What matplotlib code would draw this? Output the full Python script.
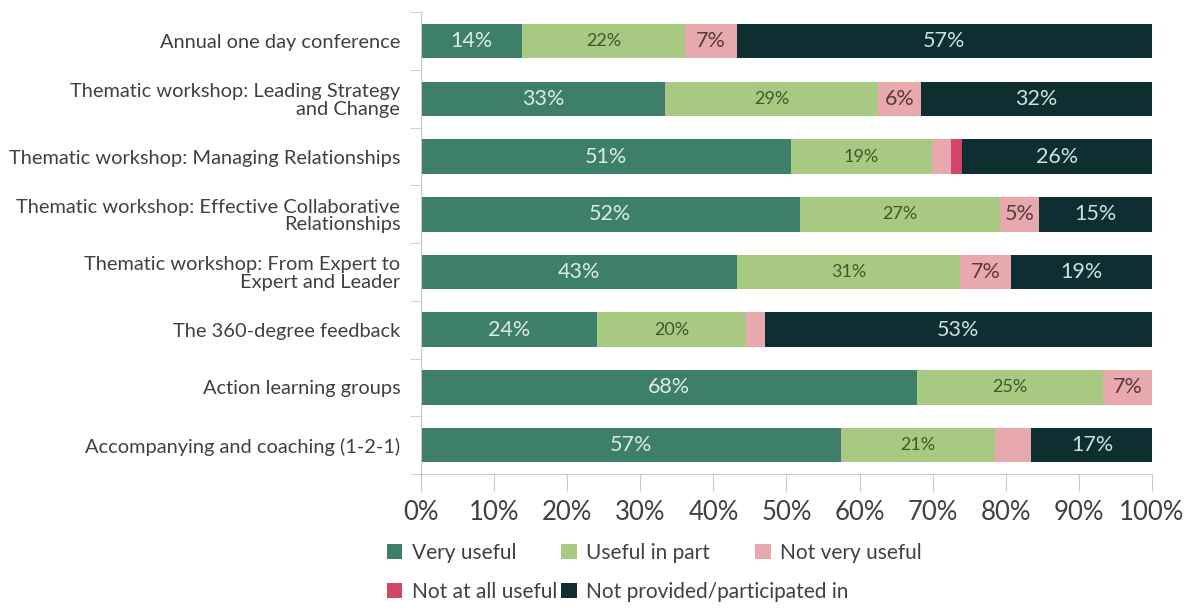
import matplotlib.pyplot as plt
import numpy as np

plt.rcParams['font.family'] = ['Lato', 'DejaVu Sans']

categories = [
    "Annual one day conference",
    "Thematic workshop: Leading Strategy\nand Change",
    "Thematic workshop: Managing Relationships",
    "Thematic workshop: Effective Collaborative\nRelationships",
    "Thematic workshop: From Expert to\nExpert and Leader",
    "The 360-degree feedback",
    "Action learning groups",
    "Accompanying and coaching (1-2-1)",
]

very_useful = [13.8, 33.4, 50.6, 51.8, 43.2, 24.1, 67.9, 57.4]
useful_in_part = [22.3, 29.1, 19.3, 27.4, 30.6, 20.4, 25.4, 21.2]
not_very_useful = [7.1, 5.9, 2.6, 5.4, 6.9, 2.5, 6.7, 4.9]
not_at_all_useful = [0, 0, 1.5, 0, 0, 0, 0, 0]
not_provided = [56.8, 31.6, 26.0, 15.4, 19.3, 53.0, 0, 16.6]

series = [
    ("Very useful", very_useful, "#3e7f6a", "#dcebe3", 15.5),
    ("Useful in part", useful_in_part, "#a7c981", "#3d5a2c", 13),
    ("Not very useful", not_very_useful, "#e8a9ae", "#5a3a3c", 15.5),
    ("Not at all useful", not_at_all_useful, "#d2456a", "#ffffff", 15.5),
    ("Not provided/participated in", not_provided, "#0e2f31", "#cfe0df", 15.5),
]

fig = plt.figure(figsize=(11.93, 6.12), dpi=100)
ax = fig.add_axes([0.353, 0.2255, 0.6125, 0.7545])

y = np.arange(len(categories))
left = np.zeros(len(categories))
bars = []
for name, vals, col, tcol, fs in series:
    vals = np.array(vals, dtype=float)
    b = ax.barh(y, vals, left=left, height=0.6, color=col, edgecolor='none', label=name)
    bars.append(b)
    for yi, (l, v) in enumerate(zip(left, vals)):
        if v >= 5:
            ax.text(l + v / 2, yi, f"{v:.0f}%", ha='center', va='center',
                    color=tcol, fontsize=fs)
    left += vals

ax.set_xlim(0, 100)
ax.set_ylim(len(categories) - 0.5, -0.5)
ax.set_yticks(y)
ax.set_yticklabels(categories, fontsize=14.4, color='#404040', linespacing=1.05)
ax.set_yticks(np.arange(-0.5, len(categories)), minor=True)
ax.tick_params(axis='y', which='major', length=0, pad=15)
ax.tick_params(axis='y', which='minor', length=8, color='#c8c8c8')
ax.set_xticks(np.arange(0, 101, 10))
ax.set_xticklabels([f"{v}%" for v in range(0, 101, 10)], fontsize=18.5, color='#404040')
ax.tick_params(axis='x', length=12, color='#c8c8c8', pad=7)
for s in ['top', 'right']:
    ax.spines[s].set_visible(False)
for s in ['left', 'bottom']:
    ax.spines[s].set_color('#c8c8c8')

cols = [([0, 3], 0.3155), ([1, 4], 0.4615), ([2], 0.6245)]
for idx, x in cols:
    leg = fig.legend([bars[i] for i in idx], [series[i][0] for i in idx],
                     loc='upper left', bbox_to_anchor=(x, 0.13), frameon=False,
                     fontsize=15, handlelength=0.75, handleheight=0.75,
                     handletextpad=0.45, labelspacing=0.9, borderpad=0)
    for t in leg.get_texts():
        t.set_color('#404040')

fig.savefig("out.png", dpi=100)
